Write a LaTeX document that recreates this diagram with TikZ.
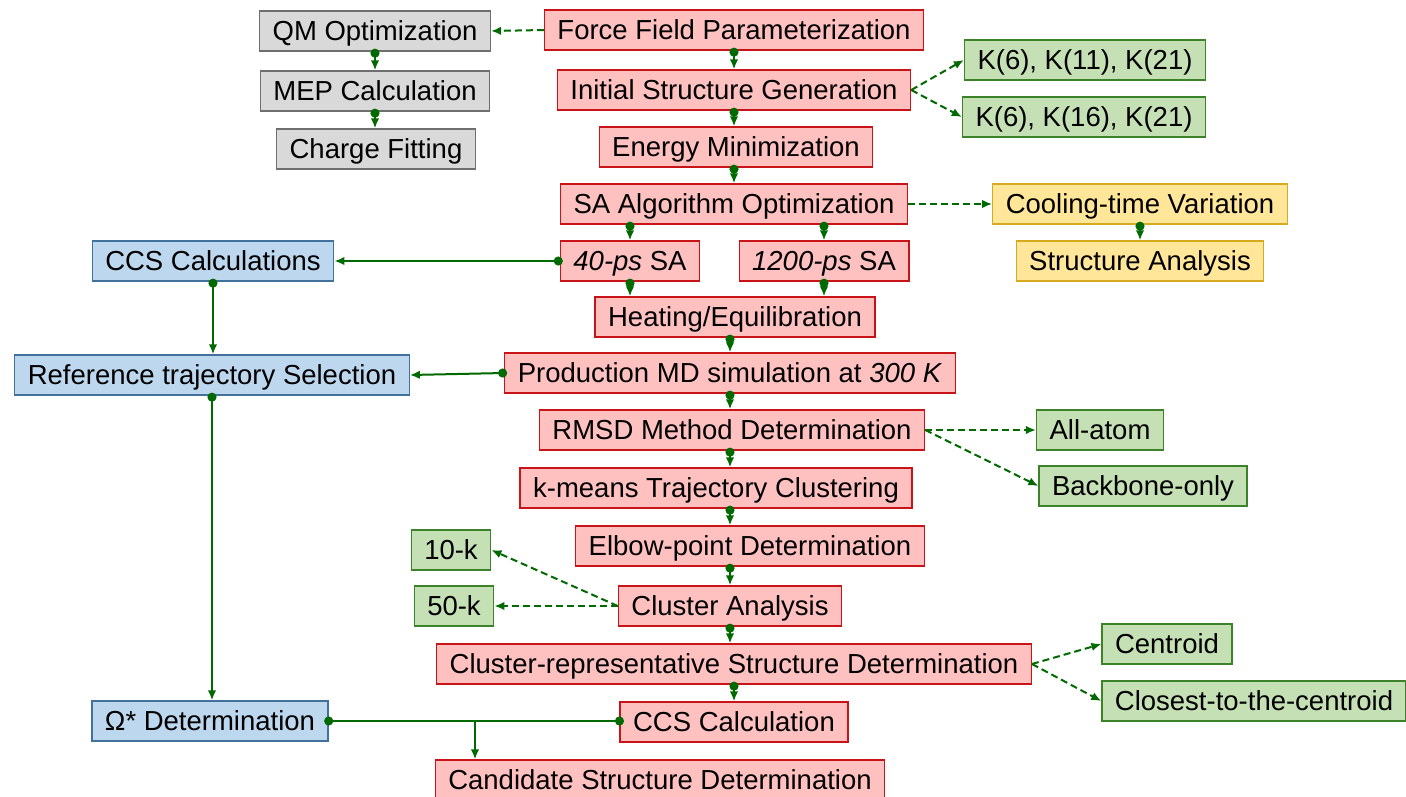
\documentclass[tikz,border=0pt]{standalone}
\usepackage{fontspec}
\setmainfont{Liberation Sans}
\usetikzlibrary{arrows.meta,calc}

\definecolor{stepfill}{RGB}{255,192,192}
\definecolor{stepline}{RGB}{200,20,24}
\definecolor{qmfill}{RGB}{217,217,217}
\definecolor{qmline}{RGB}{110,110,110}
\definecolor{optfill}{RGB}{197,224,180}
\definecolor{optline}{RGB}{60,130,40}
\definecolor{coolfill}{RGB}{255,230,153}
\definecolor{coolline}{RGB}{214,170,30}
\definecolor{ccsfill}{RGB}{189,215,238}
\definecolor{ccsline}{RGB}{65,113,156}
\definecolor{flowgreen}{RGB}{0,105,0}

\begin{document}
\begin{tikzpicture}[x=1pt,y=-1pt,
  box/.style={draw,line width=1.3pt,minimum height=40pt,inner xsep=13pt,inner ysep=0pt,
    font=\fontsize{27.5pt}{33pt}\selectfont,text height=21pt,text depth=1.5pt},
  stepbox/.style={box,fill=stepfill,draw=stepline},
  qmbox/.style={box,fill=qmfill,draw=qmline},
  optbox/.style={box,fill=optfill,draw=optline},
  coolbox/.style={box,fill=coolfill,draw=coolline},
  ccsbox/.style={box,fill=ccsfill,draw=ccsline},
  flow/.style={draw=flowgreen,line width=2pt,shorten <=-3pt,
    {Circle[length=9pt]}-{Latex[length=10pt,width=8.5pt]}},
  dotlink/.style={draw=flowgreen,line width=2pt,shorten <=-4.5pt,shorten >=-4.5pt,
    {Circle[length=9pt]}-{Circle[length=9pt]}},
  plain/.style={draw=flowgreen,line width=2pt,-{Latex[length=10pt,width=8.5pt]}},
  opt/.style={draw=flowgreen,line width=2pt,dash pattern=on 7pt off 4pt,
    -{Latex[length=10pt,width=8.5pt]}},
]
\useasboundingbox (0,0) rectangle (1406,796);

% main workflow
\node[stepbox] (ff)    at (734,30)  {Force Field Parameterization};
\node[stepbox] (isg)   at (734,90)  {Initial Structure Generation};
\node[stepbox] (em)    at (736,147) {Energy Minimization};
\node[stepbox] (sa)    at (734,204) {SA Algorithm Optimization};
\node[stepbox] (sa40)  at (630,261) {\textit{40-ps} SA};
\node[stepbox] (sa1200) at (824,261) {\textit{1200-ps} SA};
\node[stepbox] (heat)  at (735,317) {Heating/Equilibration};
\node[stepbox] (prod)  at (730,373) {Production MD simulation at \textit{300 K}};
\node[stepbox] (rmsd)  at (732,430) {RMSD Method Determination};
\node[stepbox] (kmeans) at (716,488) {k-means Trajectory Clustering};
\node[stepbox] (elbow) at (750,546) {Elbow-point Determination};
\node[stepbox] (clus)  at (730,606) {Cluster Analysis};
\node[stepbox] (crsd)  at (734,664) {Cluster-representative Structure Determination};
\node[stepbox] (ccs)   at (734,722) {CCS Calculation};
\node[stepbox] (cand)  at (660,780) {Candidate Structure Determination};

% force field branch
\node[qmbox] (qm)     at (375,31)  {QM Optimization};
\node[qmbox] (mep)    at (375,91)  {MEP Calculation};
\node[qmbox] (charge) at (376,149) {Charge Fitting};

% options
\node[optbox] (k1)  at (1085,60)  {K(6), K(11), K(21)};
\node[optbox] (k2)  at (1084,117) {K(6), K(16), K(21)};
\node[optbox] (all) at (1100,430) {All-atom};
\node[optbox] (bb)  at (1143,486) {Backbone-only};
\node[optbox] (k10) at (451,550)  {10-k};
\node[optbox] (k50) at (454,606)  {50-k};
\node[optbox] (cen) at (1167,644) {Centroid};
\node[optbox] (clo) at (1254,701) {Closest-to-the-centroid};

% cooling-time study
\node[coolbox] (cool) at (1140,204) {Cooling-time Variation};
\node[coolbox] (stan) at (1140,261) {Structure Analysis};

% CCS reference branch
\node[ccsbox] (ccsc)  at (213,261) {CCS Calculations};
\node[ccsbox] (ref)   at (212,375) {Reference trajectory Selection};
\node[ccsbox] (omega) at (210,721) {Ω* Determination};

% vertical flow
\draw[flow] (ff.south) -- (ff.south |- isg.north);
\draw[flow] (isg.south) -- (isg.south |- em.north);
\draw[flow] (em.south -| isg.south) -- (isg.south |- sa.north);
\draw[flow] (sa.south -| sa40.north) -- (sa40.north);
\draw[flow] (sa.south -| sa1200.north) -- (sa1200.north);
\draw[flow] (sa40.south) -- (sa40.south |- heat.north);
\draw[flow] (sa1200.south) -- (sa1200.south |- heat.north);
\draw[flow] (heat.south -| prod.north) -- (prod.north);
\draw[flow] (prod.south) -- (prod.south |- rmsd.north);
\draw[flow] (rmsd.south -| clus.north) -- (clus.north |- kmeans.north);
\draw[flow] (kmeans.south -| clus.north) -- (clus.north |- elbow.north);
\draw[flow] (elbow.south -| clus.north) -- (clus.north);
\draw[flow] (clus.south) -- (clus.south |- crsd.north);
\draw[flow] (crsd.south) -- (crsd.south |- ccs.north);

\draw[flow] (qm.south) -- (qm.south |- mep.north);
\draw[flow] (mep.south) -- (mep.south |- charge.north);
\draw[flow] (cool.south) -- (stan.north);

% CCS reference branch links
\draw[flow] (sa40.west) -- (sa40.west -| ccsc.east);
\draw[flow] (ccsc.south) -- (ccsc.south |- ref.north);
\draw[flow] (prod.west) -- (ref.east);
\draw[flow] (ref.south) -- (ref.south |- omega.north);
\draw[dotlink] (omega.east) -- (omega.east -| ccs.west);
\coordinate (j) at (475,721);
\draw[plain] (j) -- (j |- cand.north);

% optional branches
\draw[opt] (ff.west) -- (qm.east);
\draw[opt] (isg.east) -- (k1.west);
\draw[opt] (isg.east) -- (k2.west);
\draw[opt] (sa.east) -- (cool.west);
\draw[opt] (rmsd.east) -- (all.west);
\draw[opt] (rmsd.east) -- (bb.west);
\draw[opt] (clus.west) -- (k10.east);
\draw[opt] (clus.west) -- (k50.east);
\draw[opt] (crsd.east) -- (cen.west);
\draw[opt] (crsd.east) -- (clo.west);
\end{tikzpicture}
\end{document}
